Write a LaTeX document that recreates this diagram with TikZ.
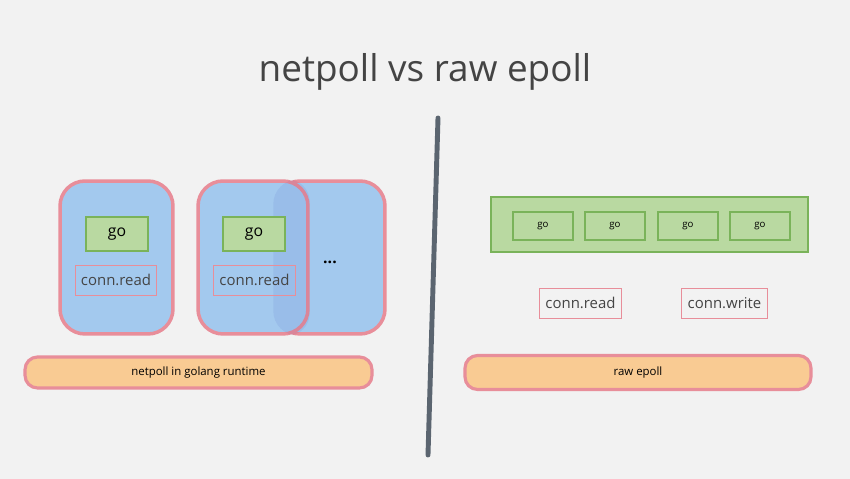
\documentclass[tikz,border=0pt]{standalone}
\usepackage{fontspec}
\setmainfont{Open Sans}
\definecolor{paper}{HTML}{F2F2F2}
\definecolor{inkgray}{HTML}{444444}
\definecolor{cardblue}{HTML}{A3C9EE}
\definecolor{rimpink}{HTML}{E88E9A}
\definecolor{gofill}{HTML}{B9D9A1}
\definecolor{goedge}{HTML}{7AB35A}
\definecolor{barorange}{HTML}{F9CB93}
\definecolor{splitgray}{HTML}{5B6570}
\tikzset{
    card/.style={draw=rimpink, line width=2pt, fill=cardblue, rounded corners=0.5cm, minimum width=2.2cm, minimum height=3.06cm},
    gobox/.style={draw=goedge, line width=1.5pt, fill=gofill, minimum width=1.24cm, minimum height=0.68cm, font=\fontsize{9}{10}\selectfont, text=black},
    smallgo/.style={draw=goedge, line width=1.2pt, fill=gofill, minimum width=1.2cm, minimum height=0.56cm, font=\fontsize{5.5}{6}\selectfont, text=black},
    connbox/.style={draw=rimpink, line width=0.5pt, minimum height=0.6cm, font=\fontsize{8.5}{10}\selectfont, text=inkgray},
    runbar/.style={draw=rimpink, line width=1.8pt, fill=barorange, rounded corners=0.25cm, font=\fontsize{6.5}{8}\selectfont, text=black}
}
\begin{document}
\begin{tikzpicture}[x=0.02cm, y=-0.02cm]
    % Paper background
    \fill[paper] (0,0) rectangle (850,479);
    \useasboundingbox (0,0) rectangle (850,479);

    % Title
    \node[text=inkgray, font=\fontsize{21}{24}\selectfont] (title) at (425,72) {netpoll vs raw epoll};

    % Split line
    \draw[splitgray, line width=2.8pt, line cap=round] (438,118) -- (428,455);

    % Left side: goroutine cards
    \node[card] (cardC) at (330,257.5) {};
    \node[card, minimum width=2.26cm] (cardA) at (116.5,257.5) {};
    \node[card] (cardB) at (253,257.5) {};
    % darker where the back card shows through
    \begin{scope}
        \clip[rounded corners=0.45cm] (cardB.south west) rectangle (cardB.north east);
        \fill[blue!60!black, opacity=0.06, rounded corners=0.5cm] (cardC.south west) rectangle (cardC.north east);
    \end{scope}

    \node[gobox] (goA) at (117,234) {go};
    \node[gobox] (goB) at (254,234) {go};
    \node[connbox, minimum width=1.56cm] (readA) at (116,280) {conn.read};
    \node[connbox, minimum width=1.58cm] (readB) at (254.5,280) {conn.read};
    \node[text=black, font=\bfseries\small] (dots) at (330,262) {...};

    \node[runbar, minimum width=6.94cm, minimum height=0.62cm] (netpoll) at (198.5,372.5) {netpoll in golang runtime};

    % Right side: raw epoll
    \node[draw=goedge, line width=1.6pt, fill=gofill, minimum width=6.34cm, minimum height=1.1cm] (pool) at (649.5,224.5) {};
    \foreach \x [count=\i] in {543,615,688,760} {
        \node[smallgo] (go\i) at (\x,226) {go};
    }

    \node[connbox, minimum width=1.54cm] (readR) at (580.5,303) {conn.read};
    \node[connbox, minimum width=1.62cm] (writeR) at (724.5,303) {conn.write};

    \node[runbar, minimum width=6.92cm, minimum height=0.68cm] (epoll) at (638,372.5) {raw epoll};
\end{tikzpicture}
\end{document}
